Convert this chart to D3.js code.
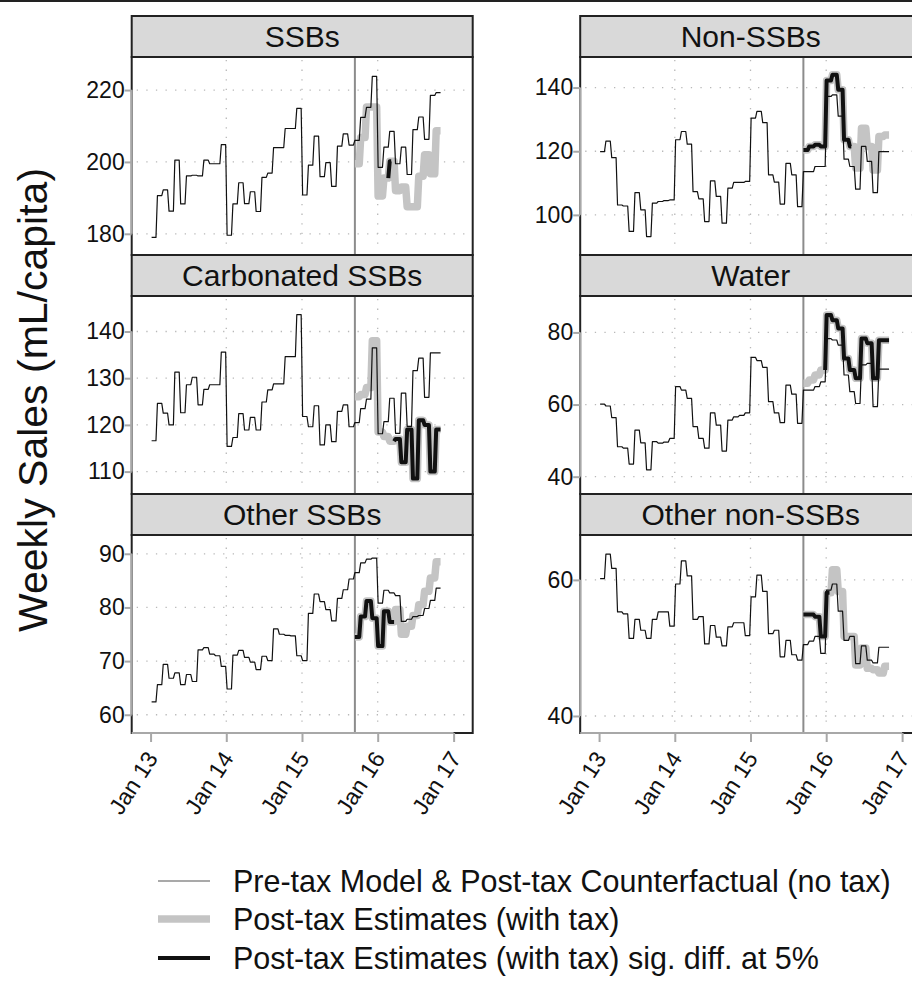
<!DOCTYPE html>
<html>
<head>
<meta charset="utf-8">
<script src="https://cdn.jsdelivr.net/npm/d3@7"></script>
<style>
body { margin: 0; background: #fff; }
text { font-family: "Liberation Sans", Arial, sans-serif; fill: #111; }
</style>
</head>
<body>
<div id="chart"></div>
<script>
// weekly sales (mL/capita); one value per 4-week period, 35 pre-tax periods then 15 post-tax
var firstWeek = new Date(2013, 0, 6);
var weeksPerPeriod = 4;
var taxPeriod = 35;

var xTicks = [new Date(2013, 0, 1), new Date(2014, 0, 1), new Date(2015, 0, 1), new Date(2016, 0, 1), new Date(2017, 0, 1)];
var xTickLabels = ["Jan 13", "Jan 14", "Jan 15", "Jan 16", "Jan 17"];

var titles = ["SSBs", "Non-SSBs", "Carbonated SSBs", "Water", "Other SSBs", "Other non-SSBs"];

// model line = pre-tax model + post-tax counterfactual
var ssbModel = [179, 190.6, 192.2, 186.3, 200.5, 188.3, 196.1, 196.3, 196.1, 200.5, 199.5, 199.5, 204.8,
  179.6, 188.3, 194.2, 188.4, 191.7, 186.2, 195.7, 196.9, 204, 204, 209.3, 209.3, 214.9,
  190.8, 199.1, 207.2, 195.9, 199.8, 193.2, 204.4, 207.8, 204.7,
  206, 212.4, 215.2, 223.8, 198.5, 204.1, 208.5, 199.5, 204.1, 196.5, 209, 212.5, 206.3, 218.5, 219.3];
var ssbEst = [199.5, 206.8, 215.3, 215.3, 190.5, 195.5, 200.2, 192, 193, 187.5, 187.5, 196, 202, 196.7, 208.7];
var ssbSig = [[23, 25]];

var nonModel = [119.9, 123.2, 118, 103.1, 102.8, 94.8, 107, 101.6, 93.2, 103.7, 104.2, 104.5, 104.7,
  123.6, 126.2, 122.2, 107.3, 105, 97.9, 110.7, 105.8, 97.4, 108.4, 110.2, 110.2, 110.5,
  130.4, 132.5, 129, 112.6, 110.3, 103.4, 116.2, 112.6, 102.6,
  113.6, 113.6, 115.2, 115.2, 137.2, 137.7, 131, 117.5, 115.2, 108.1, 121.5, 116.8, 107, 119.9, 119.9];
var nonEst = [120.4, 121.5, 122, 121.5, 142.2, 144, 139.3, 123.6, 121.5, 114.7, 127.2, 121.5, 114.1, 124.6, 125.1];
var nonSig = [[0, 33]];

var carbModel = [116.6, 124.6, 122.5, 120, 131.3, 122.6, 128.6, 130.2, 124.3, 127.6, 128.6, 128.6, 135.6,
  115.4, 117.3, 122.4, 118.9, 121.6, 118.9, 124.9, 127.5, 128.8, 128.8, 134.6, 134.6, 143.6,
  121.8, 119.6, 124.1, 115.7, 120, 116.4, 122.9, 124.3, 119.6,
  120.5, 123.5, 125.5, 136.5, 118.1, 120.7, 125.7, 118.2, 126.8, 119.7, 131.6, 134.3, 125.9, 135.4, 135.4];
var carbEst = [126, 126.5, 128, 138, 118.5, 117.5, 116.5, 117, 112, 119, 108.5, 121, 120, 110, 119];
var carbSig = [[27, 59]];

var waterModel = [60.1, 59.6, 56.4, 48.3, 47.9, 43.5, 52.9, 49.4, 41.9, 49.7, 49.3, 49.6, 50.6,
  65, 64, 61.7, 53.9, 50.6, 47.9, 57.7, 54.3, 47.1, 55.7, 56.6, 57, 57.7,
  73.1, 72.2, 70.3, 60.8, 57.7, 55, 65.4, 62.9, 54.8,
  64, 64, 65, 66.3, 78.3, 77.9, 76.5, 68.2, 63.6, 60.3, 71, 71.4, 59.4, 69.8, 69.8];
var waterEst = [65.9, 66.8, 68.2, 69.6, 84.8, 83.4, 81.1, 72.8, 69.6, 67.3, 78.3, 77, 67.3, 77.8, 77.8];
var waterSig = [[15, 59]];

var otherModel = [62.4, 65.6, 69.4, 66.8, 67.8, 65.6, 67.5, 66.2, 72.1, 72.5, 71.3, 71, 69,
  64.8, 71.1, 72, 70.7, 69.8, 68.4, 70.9, 70.1, 76, 75, 74.8, 74.7, 71,
  70.1, 78.9, 82.5, 81.1, 79.6, 77.5, 81.7, 83.3, 85.3,
  86.5, 88.3, 89, 89.2, 80.8, 83.2, 82.7, 82.2, 77.4, 77.8, 78.3, 78.5, 79.8, 81.3, 83.6];
var otherEst = [74.5, 78.3, 81.2, 78, 72.8, 79.3, 77.3, 79.6, 75, 76.5, 78.5, 80.5, 83, 85.5, 88.5];
var otherSig = [[0, 27]];

var otherNonModel = [60.2, 63.8, 61.7, 55.3, 55, 51.4, 54.2, 52.6, 51.4, 54.2, 55.3, 55.3, 53.2,
  59.4, 62.8, 60.6, 54.2, 54.6, 50.6, 53.3, 51.6, 50.3, 53.1, 53.7, 53.7, 51.8,
  57.5, 60.7, 58.3, 52.1, 52.6, 48.7, 51.1, 49, 48.2,
  50.5, 51, 51.7, 49.2, 58.5, 59.4, 55.4, 51.1, 51.7, 47.7, 50.3, 48.2, 47.8, 50.1, 50.1];
var otherNonEst = [54.9, 54.9, 54.6, 51.7, 58.1, 61.5, 58.3, 51.7, 51.7, 47.5, 50, 47, 46.8, 46.3, 47.3];
var otherNonSig = [[0, 18]];

var yTicks = [[180, 200, 220], [100, 120, 140], [110, 120, 130, 140], [40, 60, 80], [60, 70, 80, 90], [40, 60]];
var yRanges = [[174.1, 229.2], [87.4, 149.6], [105.2, 147.6], [35.2, 90.1], [56.6, 93.5], [37.5, 66.6]];

var legendLabels = ["Pre-tax Model & Post-tax Counterfactual (no tax)", "Post-tax Estimates (with tax)",
  "Post-tax Estimates (with tax) sig. diff. at 5%"];

var panels = [
  {model: ssbModel, est: ssbEst, sig: ssbSig},
  {model: nonModel, est: nonEst, sig: nonSig},
  {model: carbModel, est: carbEst, sig: carbSig},
  {model: waterModel, est: waterEst, sig: waterSig},
  {model: otherModel, est: otherEst, sig: otherSig},
  {model: otherNonModel, est: otherNonEst, sig: otherNonSig}
];

var width = 912, height = 983;
var colX = [131.7, 580.2];
var panelW = 341, stripH = 41, panelH = 198, top0 = 16;
var grayCol = "#c4c4c4";

var svg = d3.select("#chart").append("svg")
  .attr("width", width)
  .attr("height", height);
svg.append("rect").attr("width", width).attr("height", height).attr("fill", "#fff");
svg.append("line")
  .attr("x1", 0).attr("x2", width).attr("y1", 1).attr("y2", 1)
  .attr("stroke", "#222").attr("stroke-width", 2);

var x = d3.scaleTime()
  .domain([new Date(2012, 9, 2), new Date(2017, 3, 3)])
  .range([0, panelW]);

var weekDate = function(k) {
  return d3.timeDay.offset(firstWeek, 7 * k);
};

// one point per week; a period's value holds for its 4 weeks
var expand = function(values, startPeriod) {
  var pts = [];
  values.forEach(function(v, i) {
    for (var w = 0; w < weeksPerPeriod; w++) {
      pts.push({week: (startPeriod + i) * weeksPerPeriod + w, rel: i * weeksPerPeriod + w, value: v});
    }
  });
  return pts;
};

panels.forEach(function(p, i) {
  var col = i % 2, row = Math.floor(i / 2);
  var px = colX[col];
  var sy = top0 + row * (stripH + panelH);
  var py = sy + stripH;
  var y = d3.scaleLinear().domain(yRanges[i]).range([panelH, 0]);
  var line = d3.line()
    .x(function(d) { return x(weekDate(d.week)); })
    .y(function(d) { return y(d.value); });

  // strip
  svg.append("rect")
    .attr("x", px).attr("y", sy).attr("width", panelW).attr("height", stripH)
    .attr("fill", "#d9d9d9").attr("stroke", "#222").attr("stroke-width", 2);
  svg.append("text")
    .attr("x", px + panelW / 2).attr("y", sy + stripH / 2)
    .attr("dy", "0.36em")
    .attr("text-anchor", "middle")
    .style("font-size", "30px")
    .text(titles[i]);

  var g = svg.append("g").attr("transform", "translate(" + px + "," + py + ")");
  g.append("rect").attr("width", panelW).attr("height", panelH).attr("fill", "#fff");

  // dotted grid
  g.selectAll(".hgrid").data(yTicks[i]).enter().append("line")
    .attr("x1", 5).attr("x2", panelW - 5)
    .attr("y1", function(d) { return y(d); }).attr("y2", function(d) { return y(d); })
    .attr("stroke", "#b8b8b8").attr("stroke-width", 1.3).attr("stroke-dasharray", "1.3,8.3");
  g.selectAll(".vgrid").data(xTicks.slice(1, -1)).enter().append("line")
    .attr("x1", function(d) { return x(d); }).attr("x2", function(d) { return x(d); })
    .attr("y1", 3).attr("y2", panelH - 3)
    .attr("stroke", "#b8b8b8").attr("stroke-width", 1.3).attr("stroke-dasharray", "1.3,8.3");

  // tax start
  var taxX = x(weekDate(taxPeriod * weeksPerPeriod));
  g.append("line")
    .attr("x1", taxX).attr("x2", taxX).attr("y1", 0).attr("y2", panelH)
    .attr("stroke", "#8c8c8c").attr("stroke-width", 2);

  var estPts = expand(p.est, taxPeriod);
  g.append("path")
    .attr("d", line(estPts))
    .attr("fill", "none").attr("stroke", grayCol).attr("stroke-width", 7.5)
    .attr("stroke-linejoin", "round");

  g.append("path")
    .attr("d", line(expand(p.model, 0)))
    .attr("fill", "none").attr("stroke", "#111").attr("stroke-width", 1.2)
    .attr("stroke-linejoin", "round");

  p.sig.forEach(function(r) {
    var seg = estPts.filter(function(d) { return d.rel >= r[0] && d.rel <= r[1]; });
    g.append("path")
      .attr("d", line(seg))
      .attr("fill", "none").attr("stroke", "#111").attr("stroke-width", 4)
      .attr("stroke-linejoin", "round");
  });

  g.append("rect")
    .attr("width", panelW).attr("height", panelH)
    .attr("fill", "none").attr("stroke", "#222").attr("stroke-width", 2);

  // y axis
  var yt = yTicks[i];
  var yAxis = g.append("g").call(d3.axisLeft(y).tickValues(yt).tickSize(7).tickPadding(0));
  yAxis.select(".domain").remove();
  yAxis.selectAll(".tick line").attr("stroke", "#a8a8a8").attr("stroke-width", 2);
  yAxis.selectAll("text").style("font-size", "23px").attr("fill", "#111");
  g.append("line")
    .attr("x1", 0).attr("x2", 0)
    .attr("y1", y(d3.max(yt))).attr("y2", y(d3.min(yt)))
    .attr("stroke", "#a8a8a8").attr("stroke-width", 2);

  // x axis on bottom row only
  if (row === 2) {
    var xAxis = g.append("g")
      .attr("transform", "translate(0," + panelH + ")")
      .call(d3.axisBottom(x).tickValues(xTicks).tickSize(9)
        .tickFormat(function(d, k) { return xTickLabels[k]; }));
    xAxis.select(".domain").remove();
    xAxis.selectAll(".tick line").attr("stroke", "#a8a8a8").attr("stroke-width", 2);
    xAxis.selectAll("text")
      .style("font-size", "23px")
      .attr("fill", "#111")
      .attr("text-anchor", "end")
      .attr("x", 0).attr("y", 0)
      .attr("dy", "0.35em")
      .attr("transform", "translate(1,21) rotate(-57)");
    g.append("line")
      .attr("x1", 0).attr("x2", x(xTicks[xTicks.length - 1]))
      .attr("y1", panelH).attr("y2", panelH)
      .attr("stroke", "#a8a8a8").attr("stroke-width", 2);
  }
});

svg.append("text")
  .attr("transform", "translate(47,400) rotate(-90)")
  .attr("text-anchor", "middle")
  .style("font-size", "41px")
  .text("Weekly Sales (mL/capita)");

// legend
var legendY = [881, 919, 958];
var legendStroke = [{c: "#555", w: 1.2}, {c: grayCol, w: 7.5}, {c: "#111", w: 4}];
var legend = svg.append("g");
legendLabels.forEach(function(t, k) {
  legend.append("line")
    .attr("x1", 158).attr("x2", 210).attr("y1", legendY[k]).attr("y2", legendY[k])
    .attr("stroke", legendStroke[k].c).attr("stroke-width", legendStroke[k].w);
  legend.append("text")
    .attr("x", 233).attr("y", legendY[k])
    .attr("dy", "0.36em")
    .style("font-size", "30.5px")
    .text(t);
});
</script>
</body>
</html>
